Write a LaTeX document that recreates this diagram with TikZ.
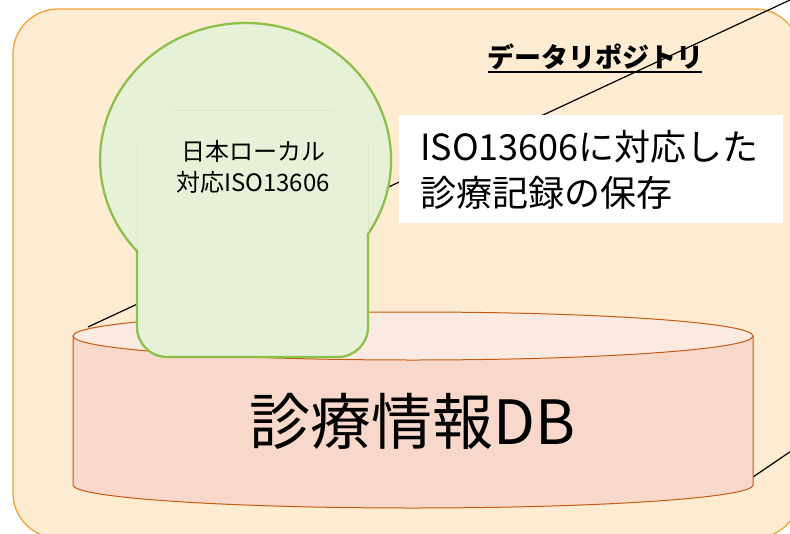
\documentclass[tikz,border=0pt]{standalone}
\usepackage{fontspec}
\setmainfont{Noto Sans CJK JP}
\definecolor{bgfill}{RGB}{253,235,210}
\definecolor{bgline}{RGB}{244,164,52}
\definecolor{cylside}{RGB}{248,216,202}
\definecolor{cyltop}{RGB}{251,234,225}
\definecolor{cylline}{RGB}{197,90,17}
\definecolor{gfill}{RGB}{231,241,216}
\definecolor{gline}{RGB}{141,192,75}
\definecolor{gfaint}{RGB}{218,233,196}
\tikzset{
  x=1pt, y=-1pt,
  callout/.style={black, line width=1.2pt},
  cylborder/.style={draw=cylline, line width=1pt},
  greenshape/.style={draw=gline, fill=gfill, line width=2.3pt},
  txt/.style={inner sep=0pt, align=center, text=black}
}
\begin{document}
\begin{tikzpicture}
\useasboundingbox (0,0) rectangle (790,533);
% background container
\draw[draw=bgline, fill=bgfill, line width=1.3pt, rounded corners=45] (13,9) rectangle (800,538);
% callout lines
\coordinate (l1a) at (790,0);
\coordinate (l1b) at (88,327);
\coordinate (l2a) at (753,477);
\coordinate (l2b) at (800,445);
\draw[callout] (l1a) -- (l1b);
\draw[callout] (l2a) -- (l2b);
% cylinder
\fill[cylside] (73,336) rectangle (753,485);
\fill[cylside] (413,485) ellipse[x radius=340, y radius=23];
\draw[cylborder] (73,336) -- (73,485) arc[start angle=180, end angle=0, x radius=340, y radius=23] -- (753,336);
\draw[cylborder, fill=cyltop] (413,336) ellipse[x radius=340, y radius=24];
\node[txt, font=\fontsize{61}{70}\selectfont] (db) at (413,421) {診療情報DB};
% green shape
\draw[greenshape] (137,251) -- (137,327) arc[start angle=180, end angle=90, radius=30]
  -- (338,357) arc[start angle=90, end angle=0, radius=30]
  -- (368,234) arc[start angle=32.7, end angle=-221.6, x radius=145.5, y radius=137] -- cycle;
\draw[gfaint, line width=0.8pt] (137,250) -- (137,143);
\draw[gfaint, line width=0.8pt] (173,110) -- (333,110);
\draw[gfaint, line width=0.8pt] (368,232) -- (368,143);
\node[txt, font=\fontsize{24}{31}\selectfont] (local) at (253,167) {日本ローカル\\対応ISO13606};
% white text box
\node[fill=white, inner sep=0pt, minimum width=384pt, minimum height=108pt] (box) at (591,169) {};
\node[txt, align=left, anchor=west, font=\fontsize{36}{46}\selectfont] (boxtext) at (420,170) {ISO13606に対応した\\診療記録の保存};
% title
\node[txt, font=\fontsize{27}{30}\bfseries\selectfont] (title) at (595,57) {データリポジトリ};
\coordinate (ula) at (488,72);
\coordinate (ulb) at (702,72);
\draw[black, line width=1.8pt] (ula) -- (ulb);
\end{tikzpicture}
\end{document}
